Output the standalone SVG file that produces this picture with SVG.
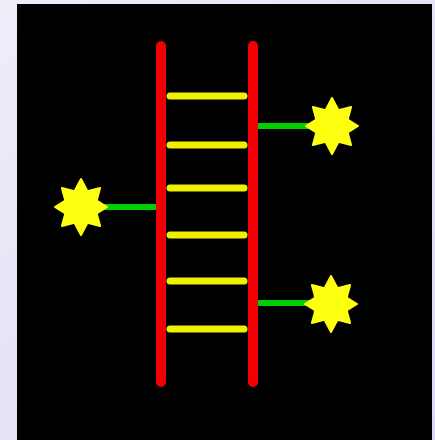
<svg xmlns="http://www.w3.org/2000/svg" width="435" height="440" viewBox="0 0 435 440">
<defs>
<linearGradient id="bg" x1="0" y1="0" x2="1" y2="1">
<stop offset="0" stop-color="#f0ecf8"/>
<stop offset="1" stop-color="#dcd8f4"/>
</linearGradient>
<polygon id="star" points="0,-28 6.5,-15.7 19.1,-19.1 15.7,-6.5 26,0 15.7,6.5 19.1,19.1 6.5,15.7 0,28 -6.5,15.7 -19.1,19.1 -15.7,6.5 -26,0 -15.7,-6.5 -19.1,-19.1 -6.5,-15.7"/>
</defs>
<style>
.rail{stroke:#f00000;stroke-width:10;stroke-linecap:round}
.rung{stroke:#f0f000;stroke-width:7;stroke-linecap:round}
.link{stroke:#00d000;stroke-width:6}
.star{fill:#ffff10;stroke:#ffff10;stroke-width:2;stroke-linejoin:round}
</style>
<rect width="435" height="440" fill="url(#bg)"/>
<rect x="17" y="4" width="415" height="436" fill="#000"/>
<g id="connectors">
<line class="link" x1="100" y1="207" x2="157" y2="207"/>
<line class="link" x1="257" y1="126" x2="312" y2="126"/>
<line class="link" x1="257" y1="303" x2="312" y2="303"/>
</g>
<g id="ladder">
<line class="rail" x1="161" y1="46" x2="161" y2="382"/>
<line class="rail" x1="253" y1="46" x2="253" y2="382"/>
<line class="rung" x1="170" y1="96" x2="244" y2="96"/>
<line class="rung" x1="170" y1="145" x2="244" y2="145"/>
<line class="rung" x1="170" y1="188" x2="244" y2="188"/>
<line class="rung" x1="170" y1="235" x2="244" y2="235"/>
<line class="rung" x1="170" y1="281" x2="244" y2="281"/>
<line class="rung" x1="170" y1="329" x2="244" y2="329"/>
</g>
<g id="star-left"><use href="#star" class="star" x="81" y="207"/></g>
<g id="star-right-top"><use href="#star" class="star" x="332" y="126"/></g>
<g id="star-right-bottom"><use href="#star" class="star" x="331" y="304"/></g>
</svg>
